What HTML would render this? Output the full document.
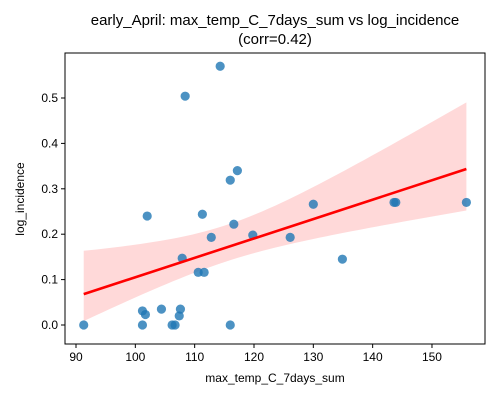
<!DOCTYPE html>
<html><head><meta charset="utf-8"><style>
body{margin:0;background:#fff;}
svg text{font-family:"Liberation Sans","DejaVu Sans",sans-serif;fill:#000;}
</style></head><body>
<svg id="chart" width="500" height="400">
<rect width="500" height="400" fill="#fff"/>
<text x="275" y="25" font-size="15" text-anchor="middle">early_April: max_temp_C_7days_sum vs log_incidence</text>
<text x="275" y="44" font-size="15" text-anchor="middle">(corr=0.42)</text>
<g id="plot"></g>
<text x="275" y="382" font-size="12" text-anchor="middle">max_temp_C_7days_sum</text>
<text x="24" y="199" font-size="12" text-anchor="middle" transform="rotate(-90 24 199)">log_incidence</text>
</svg>
<script>
const xValues=[91.3,114.3,108.4,117.2,116.0,102.0,111.3,116.6,112.8,119.8,107.9,110.6,111.6,101.2,101.7,104.4,107.6,107.4,101.2,106.2,106.7,116.0,126.1,130.0,134.9,143.6,143.9,155.8];
const yValues=[0,0.570,0.504,0.340,0.319,0.240,0.244,0.222,0.193,0.198,0.147,0.116,0.116,0.031,0.023,0.035,0.035,0.020,0,0,0,0,0.193,0.266,0.145,0.270,0.270,0.270];
const xTicks=[90,100,110,120,130,140,150];
const yTicks=[0.0,0.1,0.2,0.3,0.4,0.5];

const NS="http://www.w3.org/2000/svg";
const L=65,R=485,T=53,B=344;
const sx=v=>76+(v-90)*5.933;
const sy=v=>325-v*454;
const g=document.getElementById('plot');
function mk(tag,attrs){const e=document.createElementNS(NS,tag);for(const k in attrs)e.setAttribute(k,attrs[k]);g.appendChild(e);return e;}

const n=xValues.length;
const mx=xValues.reduce((a,b)=>a+b,0)/n, my=yValues.reduce((a,b)=>a+b,0)/n;
let sxx=0,sxy=0;for(let i=0;i<n;i++){sxx+=(xValues[i]-mx)**2;sxy+=(xValues[i]-mx)*(yValues[i]-my);}
const slope=sxy/sxx, icpt=my-slope*mx;
let sse=0;for(let i=0;i<n;i++){sse+=(yValues[i]-icpt-slope*xValues[i])**2;}
const s=Math.sqrt(sse/(n-2)), tUp=1.85, tLo=1.15;
const x0=Math.min(...xValues), x1=Math.max(...xValues);
const up=[],lo=[];
for(let k=0;k<=60;k++){const x=x0+(x1-x0)*k/60;const yh=icpt+slope*x;const se=s*Math.sqrt(1/n+(x-mx)**2/sxx);up.push(sx(x)+','+sy(yh+tUp*se));lo.unshift(sx(x)+','+sy(yh-tLo*se));}
const band=mk('polygon',{points:up.concat(lo).join(' '),fill:'rgba(255,0,0,0.15)',stroke:'none'});



xValues.forEach((x,i)=>{
  const c=mk('circle',{cx:sx(x),cy:sy(yValues[i]),r:4.6,fill:'#1f77b4','fill-opacity':0.8});
  
  
});

const line=mk('line',{x1:sx(x0),y1:sy(icpt+slope*x0),x2:sx(x1),y2:sy(icpt+slope*x1),stroke:'red','stroke-width':2.6});



const frame=mk('rect',{x:L,y:T,width:R-L,height:B-T,fill:'none',stroke:'#000','stroke-width':1});



xTicks.forEach(t=>{
  const tk=mk('line',{x1:sx(t),x2:sx(t),y1:B,y2:B+4,stroke:'#000'});
  
  
  const lb=mk('text',{x:sx(t),y:B+17,'font-size':12,'text-anchor':'middle'});
  lb.textContent=t;
  
  
});
yTicks.forEach(t=>{
  const tk=mk('line',{x1:L-4,x2:L,y1:sy(t),y2:sy(t),stroke:'#000'});
  
  
  const lb=mk('text',{x:L-7,y:sy(t)+4,'font-size':12,'text-anchor':'end'});
  lb.textContent=t.toFixed(1);
  
  
});
</script>
</body></html>
